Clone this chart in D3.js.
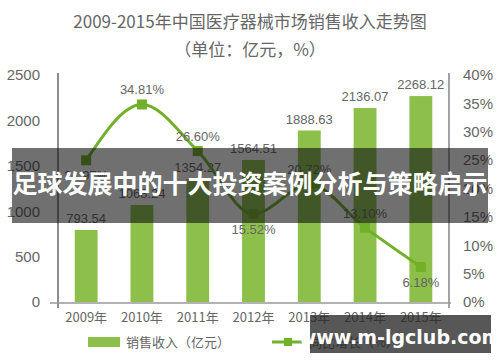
<!DOCTYPE html>
<html>
<head>
<meta charset="utf-8">
<script src="https://cdn.jsdelivr.net/npm/d3@7"></script>
<style>
  body { margin: 0; background: #fff; }
  svg text { font-family: "Noto Sans CJK SC", "Liberation Sans", sans-serif; }
</style>
</head>
<body>
<div id="chart"></div>
<script>
const years = ['2009年', '2010年', '2011年', '2012年', '2013年', '2014年', '2015年'];
const sales = [793.54, 1068.24, 1354.27, 1564.51, 1888.63, 2136.07, 2268.12];
const growth = [24.97, 34.81, 26.60, 15.52, 20.72, 13.10, 6.18];
const leftTicks = [0, 500, 1000, 1500, 2000, 2500];
const rightTicks = [0, 5, 10, 15, 20, 25, 30, 35, 40];
// label above (-1) or below (1) the point
const growthLabelSide = [1, -1, -1, 1, -1, -1, 1];

const width = 500, height = 362;
const barColor = '#8dc04a', lineColor = '#72b02a', axisColor = '#666', textColor = '#666';

const svg = d3.select('#chart').append('svg')
  .attr('width', width)
  .attr('height', height);

const x = d3.scaleBand().domain(years).range([58, 449]).paddingInner(0.59).paddingOuter(0.3);
const yL = d3.scaleLinear().domain([0, 2500]).range([302, 75]);
const yR = d3.scaleLinear().domain([0, 40]).range([302, 75]);

// title
svg.append('text')
  .attr('x', 250).attr('y', 28)
  .attr('text-anchor', 'middle')
  .style('font-size', '17px').style('fill', textColor)
  .text('2009-2015年中国医疗器械市场销售收入走势图');
svg.append('text')
  .attr('x', 250).attr('y', 56)
  .attr('text-anchor', 'middle')
  .style('font-size', '17px').style('fill', textColor)
  .text('（单位：亿元，%）');

// bars
svg.append('g').selectAll('rect')
  .data(sales)
  .join('rect')
  .attr('x', (d, i) => x(years[i]))
  .attr('width', x.bandwidth())
  .attr('y', d => yL(d))
  .attr('height', d => yL(0) - yL(d))
  .style('fill', barColor);

svg.append('g').selectAll('text')
  .data(sales)
  .join('text')
  .attr('x', (d, i) => x(years[i]) + x.bandwidth() / 2)
  .attr('y', d => yL(d) - 7)
  .attr('text-anchor', 'middle')
  .style('font-size', '13px').style('fill', textColor)
  .style('font-family', '"Liberation Sans", sans-serif')
  .text(d => d.toFixed(2));

// axes
const leftAxis = d3.axisLeft(yL).tickValues(leftTicks).tickSize(0).tickPadding(18)
  .tickFormat(d3.format('d'));
const gl = svg.append('g').attr('transform', 'translate(58,0)').call(leftAxis);
gl.select('.domain').remove();
gl.selectAll('text').style('font-size', '15px').style('fill', textColor)
  .style('font-family', '"Liberation Sans", sans-serif');

const rightAxis = d3.axisRight(yR).tickValues(rightTicks).tickSize(0).tickPadding(14)
  .tickFormat(d => d + '%');
const gr = svg.append('g').attr('transform', 'translate(449,0)').call(rightAxis);
gr.select('.domain').remove();
gr.selectAll('text').style('font-size', '15px').style('fill', textColor)
  .style('font-family', '"Liberation Sans", sans-serif');

svg.append('line')
  .attr('x1', 58).attr('x2', 58).attr('y1', 73).attr('y2', 308)
  .style('stroke', axisColor).style('stroke-width', 1.5);
svg.append('line')
  .attr('x1', 449).attr('x2', 449).attr('y1', 73).attr('y2', 308)
  .style('stroke', axisColor).style('stroke-width', 1.2);
svg.append('line')
  .attr('x1', 50).attr('x2', 451).attr('y1', yL(0) + 1).attr('y2', yL(0) + 1)
  .style('stroke', '#999').style('stroke-width', 1.5);

const xAxis = d3.axisBottom(x).tickSize(0).tickPadding(10);
const gx = svg.append('g').attr('transform', 'translate(0,' + (yL(0) + 1) + ')').call(xAxis);
gx.select('.domain').remove();
gx.selectAll('text').style('font-size', '13px').style('fill', textColor);

// growth line
const line = d3.line()
  .x((d, i) => x(years[i]) + x.bandwidth() / 2)
  .y(d => yR(d))
  .curve(d3.curveMonotoneX);

svg.append('path')
  .attr('d', line(growth))
  .style('fill', 'none')
  .style('stroke', lineColor)
  .style('stroke-width', 3);

svg.append('g').selectAll('rect')
  .data(growth)
  .join('rect')
  .attr('x', (d, i) => x(years[i]) + x.bandwidth() / 2 - 5)
  .attr('y', d => yR(d) - 5)
  .attr('width', 10).attr('height', 10)
  .style('fill', lineColor);

svg.append('g').selectAll('text')
  .data(growth)
  .join('text')
  .attr('x', (d, i) => x(years[i]) + x.bandwidth() / 2)
  .attr('y', (d, i) => yR(d) + (growthLabelSide[i] > 0 ? 20 : -10))
  .attr('text-anchor', 'middle')
  .style('font-size', '13px').style('fill', textColor)
  .style('font-family', '"Liberation Sans", sans-serif')
  .text(d => d.toFixed(2) + '%');

// legend
svg.append('rect')
  .attr('x', 88).attr('y', 337).attr('width', 32).attr('height', 10)
  .style('fill', barColor);
svg.append('text')
  .attr('x', 126).attr('y', 347)
  .style('font-size', '13px').style('fill', textColor)
  .text('销售收入（亿元）');
svg.append('line')
  .attr('x1', 272).attr('x2', 304).attr('y1', 342).attr('y2', 342)
  .style('stroke', lineColor).style('stroke-width', 3);
svg.append('rect')
  .attr('x', 284).attr('y', 338).attr('width', 8).attr('height', 8)
  .style('fill', lineColor);
svg.append('text')
  .attr('x', 309).attr('y', 347)
  .style('font-size', '13px').style('fill', textColor)
  .text('同比增长（%）');

// overlay banners
svg.append('rect')
  .attr('x', 12).attr('y', 148).attr('width', 476).attr('height', 75)
  .style('fill', 'rgba(16,16,16,0.6)');
svg.append('text')
  .attr('x', 250).attr('y', 193)
  .attr('text-anchor', 'middle')
  .style('font-size', '25px').style('font-weight', 'bold').style('fill', '#fff')
  .text('足球发展中的十大投资案例分析与策略启示');

svg.append('rect')
  .attr('x', 310).attr('y', 315).attr('width', 181).attr('height', 38)
  .style('fill', 'rgba(40,40,40,0.78)');
svg.append('text')
  .attr('x', 400).attr('y', 344)
  .attr('text-anchor', 'middle')
  .style('font-size', '19px').style('font-weight', 'bold').style('fill', '#fff')
  .style('font-family', '"DejaVu Sans", sans-serif')
  .text('www.m-lgclub.com');
</script>
</body>
</html>
